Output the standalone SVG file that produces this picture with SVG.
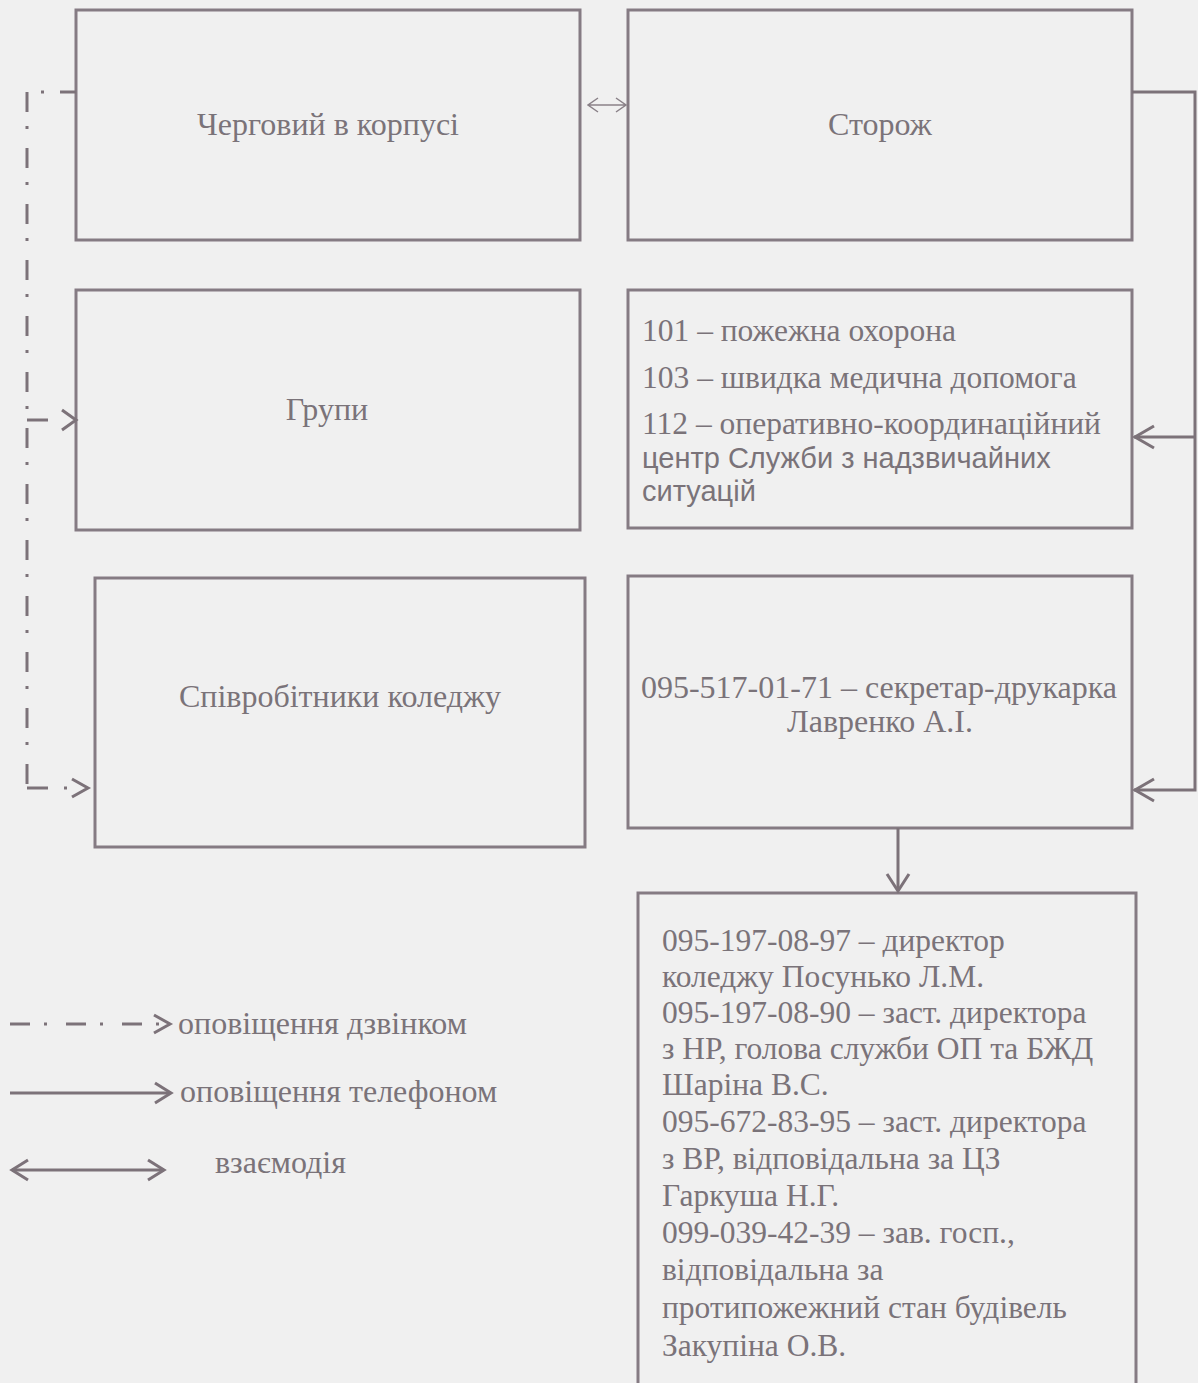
<svg xmlns="http://www.w3.org/2000/svg" width="1198" height="1383" viewBox="0 0 1198 1383">
<style>
.bg{fill:#f0f0f0}
.box{fill:none;stroke:#857b83;stroke-width:3}
.t{font-family:"Liberation Serif","Times New Roman",serif;fill:#7a7379;font-size:32px}
.ts{font-family:"Liberation Sans",Arial,sans-serif;fill:#7a7379;font-size:29px}
.b{font-size:31.5px}
.ln{fill:none;stroke:#7c7279;stroke-width:3}
.dd{fill:none;stroke:#7c7279;stroke-width:3;stroke-dasharray:20 14 3 19}
.chev{fill:none;stroke:#7c7279;stroke-width:3;stroke-linejoin:miter}
.thin{fill:none;stroke:#8a8188;stroke-width:1.5}
</style>
<rect class="bg" x="0" y="0" width="1198" height="1383"/>

<g id="node-chergovyi">
<rect class="box" x="76" y="10" width="504" height="230"/>
<text class="t" x="328" y="135" text-anchor="middle">Черговий в корпусі</text>
</g>
<g id="node-storozh">
<rect class="box" x="628" y="10" width="504" height="230"/>
<text class="t" x="880" y="135" text-anchor="middle">Сторож</text>
</g>
<g id="node-grupy">
<rect class="box" x="76" y="290" width="504" height="240"/>
<text class="t" x="327" y="420" text-anchor="middle">Групи</text>
</g>
<g id="node-sluzhby">
<rect class="box" x="628" y="290" width="504" height="238"/>
<text class="t b" x="642" y="341">101 – пожежна охорона</text>
<text class="t b" x="642" y="388">103 – швидка медична допомога</text>
<text class="t b" x="642" y="434">112 – оперативно-координаційний</text>
<text class="ts" x="642" y="468">центр Служби з надзвичайних</text>
<text class="ts" x="642" y="501">ситуацій</text>
</g>
<g id="node-spivrobitnyky">
<rect class="box" x="95" y="578" width="490" height="269"/>
<text class="t" x="340" y="707" text-anchor="middle">Співробітники коледжу</text>
</g>
<g id="node-sekretar">
<rect class="box" x="628" y="576" width="504" height="252"/>
<text class="t" x="879" y="698" text-anchor="middle">095-517-01-71 – секретар-друкарка</text>
<text class="t" x="880" y="732" text-anchor="middle">Лавренко А.І.</text>
</g>
<g id="node-kerivnytstvo">
<rect class="box" x="638" y="893" width="498" height="520"/>
<text class="t b" x="662" y="951">095-197-08-97 – директор</text>
<text class="t b" x="662" y="987">коледжу Посунько Л.М.</text>
<text class="t b" x="662" y="1023">095-197-08-90 – заст. директора</text>
<text class="t b" x="662" y="1059">з НР, голова служби ОП та БЖД</text>
<text class="t b" x="662" y="1095">Шаріна В.С.</text>
<text class="t b" x="662" y="1132">095-672-83-95 – заст. директора</text>
<text class="t b" x="662" y="1169">з ВР, відповідальна за ЦЗ</text>
<text class="t b" x="662" y="1206">Гаркуша Н.Г.</text>
<text class="t b" x="662" y="1243">099-039-42-39 – зав. госп.,</text>
<text class="t b" x="662" y="1280">відповідальна за</text>
<text class="t b" x="662" y="1318">протипожежний стан будівель</text>
<text class="t b" x="662" y="1356">Закупіна О.В.</text>
</g>

<g id="connectors">
<path class="thin" d="M588,105 H626 M598,98 L588,105 L598,112 M616,98 L626,105 L616,112"/>
<path class="ln" d="M1132,92 H1195 V790 H1134 M1195,437 H1134"/>
<path class="chev" d="M1154,426 L1135,437 L1154,448 M1154,779 L1135,790 L1154,801"/>
<path class="ln" d="M898,828 V890"/>
<path class="chev" d="M887,874 L898,891 L909,874"/>
<path class="dd" d="M27,92 V792"/>
<path class="ln" d="M60,92 H76"/>
<rect x="41" y="90.5" width="3" height="3" fill="#7c7279"/>
<path class="ln" d="M27,420 H48"/>
<path class="chev" d="M62,410 L76,420 L62,430"/>
<path class="ln" d="M27,788 H48"/>
<rect x="64" y="786.5" width="3" height="3" fill="#7c7279"/>
<path class="chev" d="M72,779 L88,788 L72,797"/>
</g>

<g id="legend">
<path class="dd" d="M10,1024 H168"/>
<path class="chev" d="M154,1015 L170,1024 L154,1033"/>
<text class="t" x="178" y="1034">оповіщення дзвінком</text>
<path class="ln" d="M10,1093 H170"/>
<path class="chev" d="M155,1083 L171,1093 L155,1103"/>
<text class="t" x="180" y="1102">оповіщення телефоном</text>
<path class="ln" d="M12,1170 H164"/>
<path class="chev" d="M28,1160 L12,1170 L28,1180 M148,1160 L164,1170 L148,1180"/>
<text class="t" x="215" y="1173">взаємодія</text>
</g>
</svg>
